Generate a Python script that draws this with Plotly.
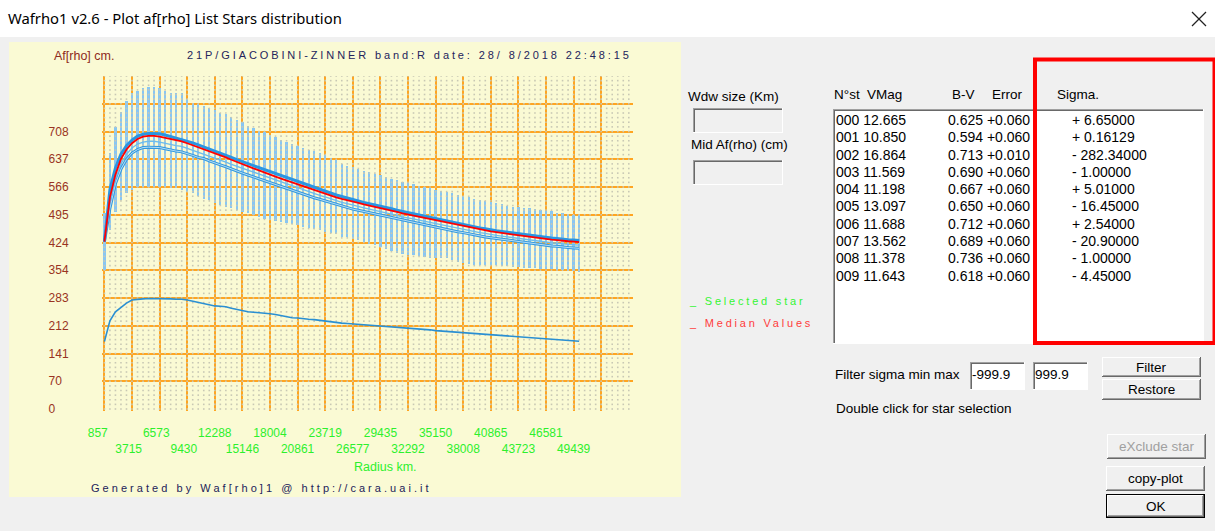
import numpy as np
import plotly.graph_objects as go

W, H = 1215, 531

# ---------------- data ----------------
RADIUS_START_KM = 857.0
RADIUS_STEP_KM = 571.55
X_TICK_LABELS = ["857", "3715", "6573", "9430", "12288", "15146", "18004", "20861", "23719",
                 "26577", "29435", "32292", "35150", "38008", "40865", "43723", "46581", "49439"]
X_EXTRA_GRID = [52297]
Y_STEP = 70.8
Y_TICK_LABELS = ["0", "70", "141", "212", "283", "354", "424", "495", "566", "637", "708"]

ERR_TOP = [499, 652, 720, 757, 786, 805, 811, 820, 822, 822,
           818, 811, 805, 805, 805, 790, 781, 778, 774, 769,
           764, 756, 752, 744, 737, 733, 723, 718, 709, 707,
           699, 693, 687, 682, 677, 672, 667, 662, 657, 652,
           647, 641, 636, 625, 621, 617, 612, 608, 604, 600,
           597, 593, 588, 584, 580, 576, 573, 570, 566, 563,
           560, 556, 553, 550, 546, 543, 540, 536, 533, 530,
           527, 525, 522, 519, 516, 515, 513, 512, 510, 508,
           506, 504, 501, 499, 498, 496, 495]
ERR_BOTTOM = [355, 457, 503, 533, 550, 559, 566, 567, 567, 567,
              566, 566, 563, 563, 559, 554, 550, 543, 537, 533,
              525, 520, 516, 512, 508, 503, 499, 495, 490, 486,
              482, 480, 478, 474, 472, 469, 465, 461, 458, 457,
              452, 450, 446, 440, 438, 434, 430, 426, 422, 418,
              414, 408, 402, 397, 395, 394, 393, 390, 387, 384,
              384, 384, 384, 380, 376, 372, 370, 368, 367, 367,
              367, 367, 365, 364, 363, 362, 361, 360, 359, 358,
              357, 356, 355, 354, 353, 352, 350]
MEDIAN = [427, 540, 598, 638, 662, 678, 689, 695, 697, 697,
          695, 692, 688, 685, 683, 678, 673, 668, 664, 658,
          652, 647, 642, 636, 630, 625, 619, 614, 609, 603,
          599, 593, 588, 583, 578, 573, 568, 563, 559, 555,
          550, 545, 540, 536, 533, 529, 526, 522, 519, 516,
          513, 509, 506, 503, 499, 496, 493, 490, 487, 484,
          481, 478, 475, 472, 469, 467, 464, 461, 458, 456,
          453, 451, 449, 447, 445, 443, 441, 439, 437, 436,
          434, 432, 431, 429, 428, 427, 426]
STAR_UPPER = [427, 560, 615, 650, 672, 686, 696, 701, 703, 703,
              702, 699, 695, 691, 688, 684, 679, 674, 669, 664,
              658, 653, 648, 642, 636, 631, 625, 620, 615, 609,
              604, 599, 594, 589, 584, 579, 574, 569, 565, 560,
              556, 551, 546, 542, 538, 534, 531, 527, 524, 521,
              517, 514, 511, 507, 504, 501, 497, 494, 491, 488,
              485, 482, 479, 476, 473, 471, 468, 465, 462, 460,
              457, 455, 453, 451, 449, 447, 445, 443, 441, 440,
              438, 436, 435, 433, 432, 431, 430]
STAR_MID = [427, 526, 586, 625, 650, 666, 676, 681, 683, 683,
            681, 678, 674, 672, 670, 665, 660, 655, 652, 646,
            640, 635, 630, 624, 619, 614, 608, 603, 598, 593,
            589, 583, 578, 573, 568, 563, 558, 553, 549, 545,
            541, 536, 531, 527, 524, 520, 517, 513, 510, 507,
            504, 500, 497, 494, 490, 488, 485, 482, 479, 476,
            473, 470, 467, 464, 461, 459, 456, 453, 450, 448,
            445, 443, 441, 439, 437, 435, 433, 431, 429, 428,
            426, 424, 423, 421, 420, 419, 418]
STAR_LOW = [427, 512, 575, 612, 637, 653, 662, 667, 668, 668,
            667, 664, 660, 658, 656, 652, 647, 642, 639, 633,
            627, 623, 618, 612, 607, 602, 597, 592, 587, 582,
            578, 572, 567, 562, 558, 553, 548, 543, 539, 535,
            531, 526, 521, 517, 514, 510, 507, 504, 501, 498,
            495, 491, 488, 485, 481, 479, 476, 473, 470, 467,
            464, 461, 458, 455, 452, 450, 447, 444, 441, 439,
            437, 435, 433, 431, 429, 427, 425, 423, 421, 420,
            418, 416, 415, 413, 412, 411, 410]
LOWER_CURVE = [172, 225, 248, 259, 270, 278, 280, 281, 282, 282,
               282, 281, 281, 280, 280, 278, 275, 272, 269, 266,
               263, 262, 261, 257, 254, 251, 248, 247, 246, 244,
               243, 241, 238, 235, 233, 232, 230, 229, 228, 226,
               225, 223, 220, 219, 218, 217, 216, 215, 214, 213,
               212, 211, 210, 209, 208, 207, 205, 204, 203, 202,
               200, 199, 198, 197, 196, 195, 194, 193, 192, 191,
               190, 189, 188, 187, 186, 185, 184, 183, 181, 180,
               179, 178, 177, 176, 175, 174, 173]

STAR_NUM = ["000", "001", "002", "003", "004", "005", "006", "007", "008", "009"]
VMAG = ["12.665", "10.850", "16.864", "11.569", "11.198", "13.097", "11.688", "13.562", "11.378", "11.643"]
BV = ["0.625", "0.594", "0.713", "0.690", "0.667", "0.650", "0.712", "0.689", "0.736", "0.618"]
ERROR = ["+0.060", "+0.060", "+0.010", "+0.060", "+0.060", "+0.060", "+0.060", "+0.060", "+0.060", "+0.060"]
SIGMA = ["+ 6.65000", "+ 0.16129", "- 282.34000", "- 1.00000", "+ 5.01000",
         "- 16.45000", "+ 2.54000", "- 20.90000", "- 1.00000", "- 4.45000"]

# ---------------- helpers ----------------
UI = "Liberation Sans, Arial, sans-serif"
NB = "\u00a0"


def px(x):
    return x / W


def py(y):
    return 1 - y / H


shapes = []
annotations = []


def rect(x0, y0, x1, y1, fill, line=None, lw=0, layer="above"):
    shapes.append(dict(type="rect", xref="paper", yref="paper", x0=px(x0), x1=px(x1),
                       y0=py(y1), y1=py(y0), fillcolor=fill, layer=layer,
                       line=dict(color=line if line else "rgba(0,0,0,0)", width=lw)))


def seg(x0, y0, x1, y1, color, w=1):
    shapes.append(dict(type="line", xref="paper", yref="paper", x0=px(x0), x1=px(x1),
                       y0=py(y0), y1=py(y1), line=dict(color=color, width=w), layer="above"))


def text(x, y, s, size=13.5, color="#000000", anchor="left", family=UI):
    annotations.append(dict(xref="paper", yref="paper", x=px(x), y=py(y), text=s,
                            showarrow=False, xanchor=anchor, yanchor="middle",
                            borderpad=0, borderwidth=0,
                            font=dict(family=family, size=size, color=color)))


def spaced(s, ls):
    return '<span style="letter-spacing:%.2fpx">%s</span>' % (ls, s)


def sunken(x0, y0, x1, y1, fill):
    rect(x0, y0, x1, y1, fill)
    seg(x0, y0 + 0.5, x1, y0 + 0.5, "#a0a0a0")
    seg(x0 + 0.5, y0, x0 + 0.5, y1, "#a0a0a0")
    seg(x0 + 1, y0 + 1.5, x1 - 1, y0 + 1.5, "#696969")
    seg(x0 + 1.5, y0 + 1, x0 + 1.5, y1 - 1, "#696969")
    seg(x0, y1 - 0.5, x1, y1 - 0.5, "#ffffff")
    seg(x1 - 0.5, y0, x1 - 0.5, y1, "#ffffff")


def button(x0, y0, x1, y1, label, color="#000000", default=False):
    rect(x0, y0, x1, y1, "#f0f0f0")
    if default:
        seg(x0, y0 + 0.5, x1, y0 + 0.5, "#000000")
        seg(x0 + 0.5, y0, x0 + 0.5, y1, "#000000")
        seg(x0, y1 - 0.5, x1, y1 - 0.5, "#000000")
        seg(x1 - 0.5, y0, x1 - 0.5, y1, "#000000")
        x0, y0, x1, y1 = x0 + 1, y0 + 1, x1 - 1, y1 - 1
    seg(x0, y0 + 0.5, x1, y0 + 0.5, "#ffffff")
    seg(x0 + 0.5, y0, x0 + 0.5, y1, "#ffffff")
    seg(x0, y1 - 0.5, x1, y1 - 0.5, "#696969")
    seg(x1 - 0.5, y0, x1 - 0.5, y1, "#696969")
    seg(x0 + 1, y1 - 1.5, x1 - 1, y1 - 1.5, "#a0a0a0")
    seg(x1 - 1.5, y0 + 1, x1 - 1.5, y1 - 1, "#a0a0a0")
    text((x0 + x1) / 2, (y0 + y1) / 2, label, color=color, anchor="center")


# ---------------- window chrome ----------------
rect(0, 0, W, 37, "#ffffff", layer="below")
rect(9, 42, 681, 497, "#fafad4", layer="below")
text(8, 18, "Wafrho1 v2.6 - Plot af[rho] List Stars distribution", size=14.8, family="Noto Sans, sans-serif")
seg(1192, 12, 1206, 26, "#222222", 1.3)
seg(1206, 12, 1192, 26, "#222222", 1.3)

# ---------------- chart texts ----------------
PLOT_FONT = "Liberation Sans, Arial, sans-serif"
text(54, 56, "Af[rho] cm.", size=12.5, color="#8e2a20", family=PLOT_FONT)
text(187, 55, spaced("21P/GIACOBINI-ZINNER band:R date: 28/ 8/2018 22:48:15", 2.9),
     size=11, color="#24245c", family=PLOT_FONT)
text(385, 467, "Radius km.", size=12.5, color="#2cf02c", anchor="center", family=PLOT_FONT)
text(91, 488, spaced("Generated by Waf[rho]1 @ http://cara.uai.it", 3.05),
     size=11, color="#22225a", family=PLOT_FONT)
text(689, 301, spaced("_ Selected star", 2.8), size=11, color="#33f533", family=PLOT_FONT)
text(689, 322.5, spaced("_ Median Values", 2.8), size=11, color="#ff3b3b", family=PLOT_FONT)

# ---------------- side controls ----------------
text(688, 96, "Wdw size (Km)")
sunken(693, 108, 783, 133, "#f0f0f0")
text(691, 145, "Mid Af(rho) (cm)")
sunken(693, 160, 783, 185, "#f0f0f0")

text(834, 95, "N°st")
text(867, 95, "VMag")
text(952, 95, "B-V")
text(992, 95, "Error")
text(1057, 95, "Sigma.")

sunken(833, 109, 1204, 344, "#ffffff")
for r in range(len(STAR_NUM)):
    yy = 120 + r * 17.3
    text(836, yy, STAR_NUM[r] + " " + VMAG[r], size=14)
    text(948, yy, BV[r] + " " + ERROR[r], size=14)
    text(1072, yy, SIGMA[r], size=14)

shapes.append(dict(type="rect", xref="paper", yref="paper", x0=px(1035), x1=px(1214.5),
                   y0=py(343), y1=py(59.5), fillcolor="rgba(0,0,0,0)",
                   line=dict(color="#ff0000", width=4), layer="above"))

text(835, 374, "Filter sigma min max")
sunken(970, 362, 1025, 390, "#ffffff")
text(972, 374, "-999.9")
sunken(1033, 362, 1088, 390, "#ffffff")
text(1035, 374, "999.9")
button(1102, 357, 1201, 377, "Filter")
button(1102, 379, 1201, 400, "Restore")
text(836, 408, "Double click for star selection")
button(1107, 434, 1206, 459, "eXclude star", color="#a0a0a0")
button(1106, 466, 1205, 491, "copy-plot")
button(1106, 494, 1205, 518, "OK", default=True)

# ---------------- plot traces ----------------
radius = RADIUS_START_KM + RADIUS_STEP_KM * np.arange(len(ERR_TOP))
top = np.array(ERR_TOP, dtype=float)
bot = np.array(ERR_BOTTOM, dtype=float)

XR = [608.5, 55590]
YR = [-5.1, 849.6]

# dotted background lattice
x_tick_vals = [float(v) for v in X_TICK_LABELS]
cell = (x_tick_vals[-1] - x_tick_vals[0]) / (len(x_tick_vals) - 1)
gx = np.arange(x_tick_vals[0], XR[1], cell / 5)
gy = np.arange(0, YR[1] + 0.1, Y_STEP / 6)
GX, GY = np.meshgrid(gx, gy)

fig = go.Figure()
fig.add_trace(go.Scatter(x=GX.ravel(), y=GY.ravel(), mode="markers",
                         marker=dict(size=1.6, color="#c8c8b4", symbol="square"),
                         hoverinfo="skip"))
fig.add_trace(go.Bar(x=radius, y=top - bot, base=bot, width=230,
                     marker=dict(color="#88c6f3", line=dict(width=0))))
fig.add_trace(go.Scatter(x=radius, y=STAR_LOW, mode="lines", line=dict(color="#3399dd", width=3)))
fig.add_trace(go.Scatter(x=radius, y=STAR_LOW, mode="lines", line=dict(color="#b8def6", width=1)))
fig.add_trace(go.Scatter(x=radius, y=STAR_MID, mode="lines", line=dict(color="#6cbcec", width=1.4)))
fig.add_trace(go.Scatter(x=radius, y=LOWER_CURVE, mode="lines", yaxis="y2",
                         line=dict(color="#2a8fd2", width=1.6)))
fig.add_trace(go.Scatter(x=radius, y=STAR_UPPER, mode="lines", line=dict(color="#2a96e2", width=3)))
fig.add_trace(go.Scatter(x=radius, y=MEDIAN, mode="lines", line=dict(color="#ff0000", width=1.8)))


def pad_x(s):
    return s + NB * (2 * (5 - len(s)))


xt_vals = x_tick_vals + X_EXTRA_GRID
xt_text = [(pad_x(s) if i % 2 == 0 else "<br>" + pad_x(s)) for i, s in enumerate(X_TICK_LABELS)] + [""]

ORANGE = "#ffa521"
fig.update_layout(
    width=W, height=H, autosize=False,
    margin=dict(l=0, r=0, t=0, b=0, pad=0),
    paper_bgcolor="#f0f0f0", plot_bgcolor="rgba(0,0,0,0)",
    showlegend=False, bargap=0,
    font=dict(family=PLOT_FONT),
    shapes=shapes, annotations=annotations,
    xaxis=dict(domain=[px(102), px(633)], range=XR, tickmode="array", tickvals=xt_vals,
               ticktext=xt_text, tickangle=0, showgrid=True, gridcolor=ORANGE, gridwidth=2,
               zeroline=False, showline=False, ticks="outside", ticklen=11,
               tickcolor="rgba(0,0,0,0)", tickfont=dict(size=12, color="#2cf02c"),
               automargin=False, fixedrange=True),
    yaxis=dict(domain=[py(411), py(76)], range=YR, tickmode="array",
               tickvals=[Y_STEP * k for k in range(1, 12)], showticklabels=False,
               showgrid=True, gridcolor=ORANGE, gridwidth=2, zeroline=False,
               showline=False, ticks="", automargin=False, fixedrange=True),
    yaxis2=dict(overlaying="y", side="left", anchor="x", range=YR, tickmode="array",
                tickvals=[Y_STEP * k for k in range(len(Y_TICK_LABELS))],
                ticktext=[s + NB * (2 * (3 - len(s))) for s in Y_TICK_LABELS],
                showgrid=False, zeroline=False, showline=False, ticks="outside",
                ticklen=30, tickcolor="rgba(0,0,0,0)", automargin=False,
                tickfont=dict(size=12, color="#993322"), fixedrange=True),
)

fig.write_html("out.html", include_plotlyjs=True,
               config={"displayModeBar": False, "staticPlot": True},
               post_script="document.body.style.margin='0';document.body.style.overflow='hidden';")
